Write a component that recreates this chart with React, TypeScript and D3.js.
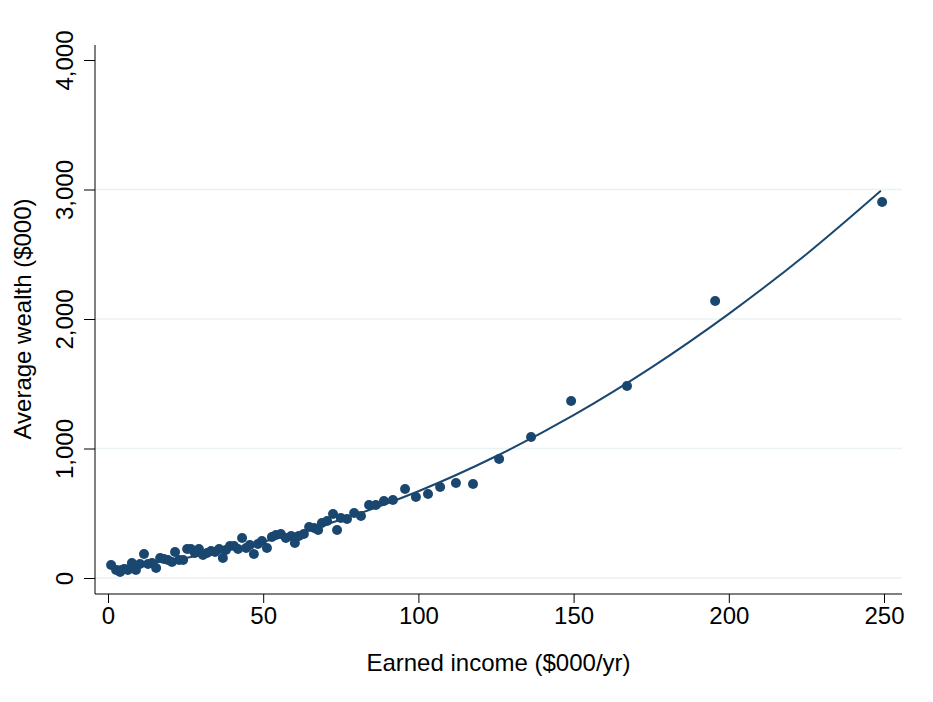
import * as d3 from 'd3'
import { useEffect, useRef } from 'react'

// scatter points: earned income ($000/yr), average wealth ($000)
const incomeValues = [
  1, 2.6, 3.9, 5.2, 6.4, 7.7, 9, 10.3, 11.6, 12.9, 14.2, 15.5, 16.8, 18, 19.3, 20.6,
  21.6, 22.9, 24.2, 25.5, 26.7, 28, 29.3, 30.6, 31.9, 33.2, 34.5, 35.8, 37, 38,
  39.3, 40.6, 41.9, 43.2, 44.5, 45.7, 47, 48.3, 49.6, 51.2, 52.8, 54.1, 55.7, 57.3,
  59, 60.2, 61.5, 63.1, 64.8, 66.4, 67.7, 68.9, 70.6, 72.5, 73.8, 75, 77, 79.3,
  81.5, 84.1, 86.3, 88.9, 91.8, 95.7, 99.2, 103.1, 107, 112.1, 117.6, 126, 136.3,
  149.2, 167.2, 195.6, 249.4,
]
const wealthValues = [
  100, 62, 46, 70, 62, 116, 62, 108, 185, 108, 116, 77, 154, 147, 139, 124,
  201, 139, 139, 224, 224, 193, 224, 178, 193, 208, 201, 224, 154, 216,
  247, 247, 224, 309, 232, 255, 185, 263, 286, 232, 317, 332, 340, 309,
  324, 270, 324, 340, 394, 386, 371, 425, 440, 494, 371, 463, 456, 502,
  479, 564, 564, 595, 602, 687, 625, 649, 703, 734, 726, 919, 1089,
  1367, 1483, 2139, 2903,
]

// fitted curve
const fitIncome = [0, 25, 50, 75, 100, 125, 150, 175, 200, 225, 249]
const fitWealth = [80, 155, 280, 450, 670, 940, 1258, 1625, 2040, 2500, 2990]

const xTicks = [0, 50, 100, 150, 200, 250]
const yTicks = [0, 1000, 2000, 3000, 4000]
const gridTicks = [0, 1000, 2000, 3000]

const WIDTH = 933
const HEIGHT = 702
const PLOT = { left: 95, right: 902, top: 45, bottom: 594 }
const NAVY = '#1a476f'
const FONT = 'Liberation Sans, Arial, Helvetica, sans-serif'
const FONT_SIZE = '24px'

export default function App() {
  const ref = useRef<SVGSVGElement>(null)

  useEffect(() => {
    if (!ref.current) return
    const svg = d3.select(ref.current)
    svg.selectAll('*').remove()

    const x = d3.scaleLinear().domain([0, 250]).range([108, 884])
    const y = d3.scaleLinear().domain([0, 4000]).range([578, 60])

    // gridlines
    svg.append('g')
      .selectAll('line')
      .data(gridTicks)
      .join('line')
      .attr('x1', PLOT.left)
      .attr('x2', PLOT.right)
      .attr('y1', (d) => y(d))
      .attr('y2', (d) => y(d))
      .attr('stroke', '#eaf2f3')
      .attr('stroke-width', 1.6)

    // x axis
    const gx = svg.append('g')
      .attr('transform', `translate(0,${PLOT.bottom})`)
      .call(d3.axisBottom(x).tickValues(xTicks).tickSize(9).tickPadding(4).tickFormat(d3.format('d')))
    gx.select('.domain').attr('d', `M${PLOT.left},0H${PLOT.right}`).attr('stroke', '#000')
    gx.selectAll('text').style('font-family', FONT).style('font-size', FONT_SIZE).attr('fill', '#000')

    // y axis, rotated tick labels
    const gy = svg.append('g')
      .attr('transform', `translate(${PLOT.left},0)`)
      .call(d3.axisLeft(y).tickValues(yTicks).tickSize(11).tickPadding(0).tickFormat(d3.format(',')))
    gy.select('.domain').attr('d', `M0,${PLOT.top}V${PLOT.bottom}`).attr('stroke', '#000')
    gy.selectAll('.tick text')
      .attr('x', null)
      .attr('dy', null)
      .attr('transform', 'translate(-22,0) rotate(-90)')
      .attr('text-anchor', 'middle')
      .style('font-family', FONT)
      .style('font-size', FONT_SIZE)
      .attr('fill', '#000')

    // axis titles
    svg.append('text')
      .attr('x', (PLOT.left + PLOT.right) / 2)
      .attr('y', 671)
      .attr('text-anchor', 'middle')
      .style('font-family', FONT)
      .style('font-size', FONT_SIZE)
      .text('Earned income ($000/yr)')

    svg.append('text')
      .attr('transform', `translate(31,${(y(0) + y(4000)) / 2}) rotate(-90)`)
      .attr('text-anchor', 'middle')
      .style('font-family', FONT)
      .style('font-size', FONT_SIZE)
      .text('Average wealth ($000)')

    // points
    svg.append('g')
      .selectAll('circle')
      .data(incomeValues.map((v, i) => [v, wealthValues[i]] as [number, number]))
      .join('circle')
      .attr('cx', (d) => x(d[0]))
      .attr('cy', (d) => y(d[1]))
      .attr('r', 5)
      .attr('fill', NAVY)

    // fitted line
    const line = d3.line<[number, number]>()
      .x((d) => x(d[0]))
      .y((d) => y(d[1]))
      .curve(d3.curveMonotoneX)
    svg.append('path')
      .attr('d', line(fitIncome.map((v, i) => [v, fitWealth[i]] as [number, number])) as string)
      .attr('fill', 'none')
      .attr('stroke', NAVY)
      .attr('stroke-width', 2)
  }, [])

  return (
    <svg ref={ref} width={WIDTH} height={HEIGHT} style={{ position: 'absolute', left: 0, top: 0, background: '#fff' }} />
  )
}
